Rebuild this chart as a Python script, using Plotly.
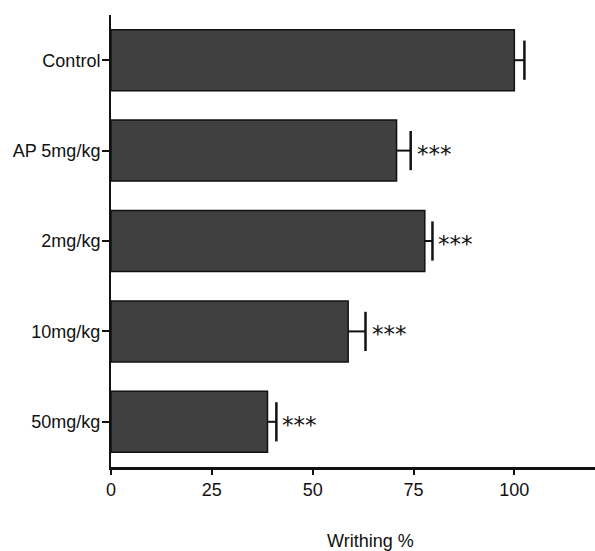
import plotly.graph_objects as go

categories = ["Control", "AP 5mg/kg", "2mg/kg", "10mg/kg", "50mg/kg"]
writhing = [100.0, 70.8, 77.8, 58.8, 38.8]
sem = [2.5, 3.5, 1.9, 4.3, 2.2]
signif = ["", "***", "***", "***", "***"]
x_ticks = [0, 25, 50, 75, 100]

FONT = "Liberation Sans, Arial, Helvetica, sans-serif"
INK = "#111111"

fig = go.Figure()
fig.add_trace(go.Bar(
    y=categories, x=writhing, orientation="h", width=0.675,
    marker=dict(color="#404040", line=dict(color=INK, width=1.5)),
))

# one-sided error bars: stem from bar end to cap, and the cap itself
stem_x, stem_y = [], []
for c, v, e in zip(categories, writhing, sem):
    stem_x += [v, v + e, None]
    stem_y += [c, c, None]
fig.add_trace(go.Scatter(x=stem_x, y=stem_y, mode="lines",
                         line=dict(color=INK, width=2), hoverinfo="skip"))
fig.add_trace(go.Scatter(x=[v + e for v, e in zip(writhing, sem)], y=categories,
                         mode="markers", hoverinfo="skip",
                         marker=dict(symbol="line-ns", size=28,
                                     line=dict(color=INK, width=2.5))))

for c, v, e, s in zip(categories, writhing, sem, signif):
    if s:
        fig.add_annotation(x=v + e, y=c, text=s, showarrow=False, xanchor="left",
                           yanchor="middle", xshift=4, yshift=-3,
                           font=dict(size=23, color=INK, family="DejaVu Sans"))

fig.add_annotation(x=0.537, y=0, xref="paper", yref="paper", yshift=-74,
                   text="Writhing %", showarrow=False, yanchor="middle",
                   font=dict(size=18, color=INK, family=FONT))

fig.update_layout(
    width=595, height=551,
    margin=dict(l=111, r=0, t=15, b=84),
    plot_bgcolor="white", paper_bgcolor="white",
    showlegend=False,
    font=dict(family=FONT, size=18, color=INK),
    xaxis=dict(range=[0, 120], tickvals=x_ticks, showgrid=False, zeroline=False,
               showline=True, linecolor=INK, linewidth=2.5,
               ticks="outside", ticklen=5, tickwidth=1.5, tickcolor=INK,
               tickfont=dict(size=18)),
    yaxis=dict(categoryorder="array", categoryarray=categories, range=[4.5, -0.5],
               showgrid=False, zeroline=False, showline=True, linecolor=INK,
               linewidth=2, ticks="outside", ticklen=7, tickwidth=1.5, tickcolor=INK,
               ticklabelstandoff=-2, tickfont=dict(size=18)),
)

fig.write_html("out.html", post_script="document.body.style.margin='0';",
               config={"displayModeBar": False})
